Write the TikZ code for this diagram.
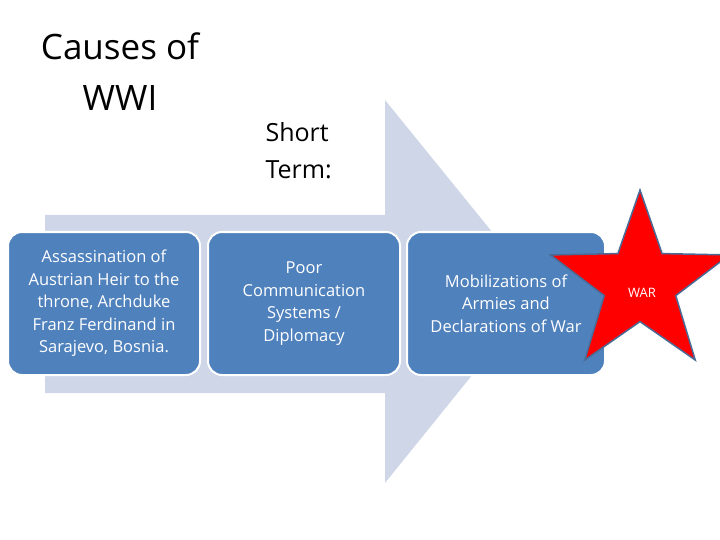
\documentclass[tikz,border=0pt]{standalone}
\usepackage{fontspec}
\setmainfont{Open Sans}
\usetikzlibrary{shapes.geometric}
\definecolor{arr}{HTML}{CED6E7}
\definecolor{bx}{HTML}{4F81BD}
\definecolor{sb}{HTML}{4A6B96}
\tikzset{cbox/.style={draw=white,line width=2pt,fill=bx,rounded corners=14pt,text=white,align=center,font=\fontsize{16.5}{22.5}\selectfont,inner sep=0pt}}
\begin{document}
\begin{tikzpicture}[x=1pt,y=-1pt]
\useasboundingbox (0,0) rectangle (720,540);
\fill[arr] (45,215) -- (385,215) -- (385,100) -- (540,291) -- (385,483) -- (385,393) -- (45,393) -- cycle;
\node[cbox,minimum width=192pt,minimum height=143pt] (b1) at (104,303.5) {Assassination of\\Austrian Heir to the\\throne, Archduke\\Franz Ferdinand in\\Sarajevo, Bosnia.};
\node[cbox,minimum width=192pt,minimum height=143pt] (b2) at (304,303.5) {Poor\\Communication\\Systems /\\Diplomacy};
\node[cbox,minimum width=198pt,minimum height=143pt] (b3) at (506,303.5) {Mobilizations of\\Armies and\\Declarations of War};
\node[star,star points=5,star point ratio=2.5,minimum size=188pt,fill=red,draw=sb,line width=1.5pt,inner sep=0pt,text=white,font=\fontsize{13}{16}\selectfont] (w) at (640,284) {};
\node[text=white,font=\fontsize{13}{16}\selectfont] (wt) at (642,293) {WAR};
\node[align=center,font=\fontsize{35}{51}\selectfont] (t) at (120,72) {Causes of\\WWI};
\node[align=left,font=\fontsize{25}{37}\selectfont,anchor=west] (s) at (262,151) {Short\\Term:};
\end{tikzpicture}
\end{document}
